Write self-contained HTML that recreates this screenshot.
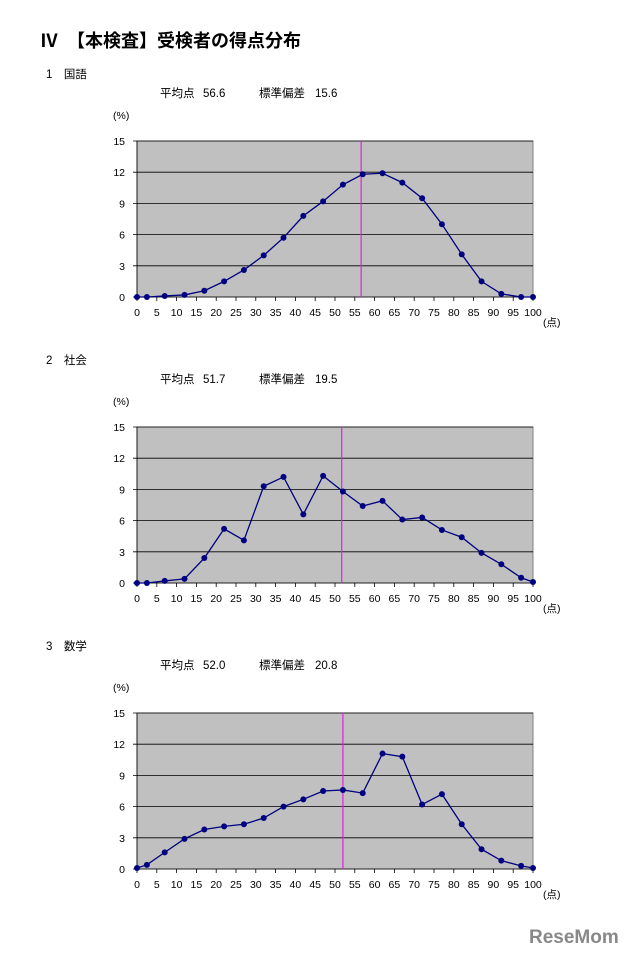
<!DOCTYPE html>
<html><head><meta charset="utf-8"><style>
body{margin:0;background:#fff}
svg text{font-family:"Liberation Sans","Noto Sans CJK JP",sans-serif;fill:#000}
</style></head><body>
<svg id="page" width="640" height="956" viewBox="0 0 640 956" xmlns="http://www.w3.org/2000/svg">
<text x="40" y="47" font-size="18" font-weight="bold">Ⅳ　【本検査】受検者の得点分布</text>
<text x="529" y="943" font-size="19" font-weight="bold" style="fill:#888">ReseMom</text>
<g id="charts"></g>
</svg>
<script>
const xCats = [0,2.5,7,12,17,22,27,32,37,42,47,52,57,62,67,72,77,82,87,92,97,100];
const xTicks = [0,5,10,15,20,25,30,35,40,45,50,55,60,65,70,75,80,85,90,95,100];
const yTicks = [0,3,6,9,12,15];
const subjects = ["1　国語","2　社会","3　数学"];
const means = [56.6,51.7,52.0];
const sds = [15.6,19.5,20.8];
const kokugo = [0,0,0.1,0.2,0.6,1.5,2.6,4.0,5.7,7.8,9.2,10.8,11.8,11.9,11.0,9.5,7.0,4.1,1.5,0.3,0,0];
const shakai = [0,0,0.2,0.4,2.4,5.2,4.1,9.3,10.2,6.6,10.3,8.8,7.4,7.9,6.1,6.3,5.1,4.4,2.9,1.8,0.5,0.1];
const sugaku = [0.1,0.4,1.6,2.9,3.8,4.1,4.3,4.9,6.0,6.7,7.5,7.6,7.3,11.1,10.8,6.2,7.2,4.3,1.9,0.8,0.3,0.1];
const series = [kokugo, shakai, sugaku];

const NS="http://www.w3.org/2000/svg";
const root=document.getElementById('charts');
function mk(tag,attrs,parent){const e=document.createElementNS(NS,tag);for(const k in attrs)e.setAttribute(k,attrs[k]);parent.appendChild(e);return e;}
const L=137,R=533,PT=141,PB=297,OFF=286;
for(let c=0;c<3;c++){
  const dy=c*OFF;
  const top=PT+dy,bot=PB+dy;
  const xs=v=>L+(v/100)*(R-L);
  const ys=v=>bot-(v/15)*(bot-top);
  const g=mk('g',{},root);
  
  
  let t=mk('text',{x:46,y:78+dy,'font-size':11.5},g);t.textContent=subjects[c];
  
  
  t=mk('text',{x:160,y:97+dy,'font-size':11.5},g);t.textContent='平均点';
  
  
  t=mk('text',{x:203,y:97+dy,'font-size':11.5},g);t.textContent=means[c].toFixed(1);
  
  
  t=mk('text',{x:259,y:97+dy,'font-size':11.5},g);t.textContent='標準偏差';
  
  
  t=mk('text',{x:315,y:97+dy,'font-size':11.5},g);t.textContent=sds[c].toFixed(1);
  
  
  t=mk('text',{x:113,y:119+dy,'font-size':10.5},g);t.textContent='(%)';
  
  
  const bg=mk('rect',{x:L,y:top,width:R-L,height:bot-top,fill:'#c0c0c0',stroke:'#808080','stroke-width':1},g);
  
  
  yTicks.forEach(v=>{
    const ln=mk('line',{x1:L-4,x2:R,y1:ys(v),y2:ys(v),stroke:'#000','stroke-width':0.8},g);
    
    
    const tl=mk('text',{x:125,y:ys(v)+4,'font-size':10.5,'text-anchor':'end'},g);tl.textContent=v;
    
    
  });
  xTicks.forEach(v=>{
    const tk=mk('line',{x1:xs(v),x2:xs(v),y1:bot,y2:bot+4,stroke:'#000','stroke-width':0.8},g);
    
    
    const tl=mk('text',{x:xs(v),y:bot+19,'font-size':10.5,'text-anchor':'middle'},g);tl.textContent=v;
    
    
  });
  mk('line',{x1:L,x2:L,y1:top,y2:bot,stroke:'#000','stroke-width':0.8},g);
  t=mk('text',{x:543,y:bot+29,'font-size':10.5},g);t.textContent='(点)';
  
  
  const ml=mk('line',{x1:xs(means[c]),x2:xs(means[c]),y1:top,y2:bot,stroke:'#e020e0','stroke-width':1.2},g);
  
  
  const pts=series[c].map((v,i)=>xs(xCats[i])+','+ys(v)).join(' ');
  const pl=mk('polyline',{points:pts,fill:'none',stroke:'#000080','stroke-width':1.3},g);
  
  
  series[c].forEach((v,i)=>{
    const p=mk('circle',{cx:xs(xCats[i]),cy:ys(v),r:3,fill:'#000080'},g);
    
    
  });
}
</script>
</body></html>
